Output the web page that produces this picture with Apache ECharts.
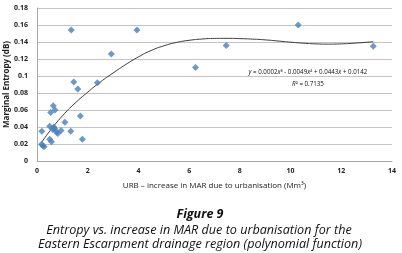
<!DOCTYPE html>
<html><head><meta charset="utf-8">
<script src="https://cdn.jsdelivr.net/npm/echarts@6/dist/echarts.min.js"></script>
<style>html,body{margin:0;padding:0;background:#fff}#c{width:402px;height:253px}</style>
</head><body><div id="c"></div>
<script>
// Observed points: x = URB (Mm³), y = marginal entropy (dB)
var urbX = [0.19,0.18,0.28,0.23,0.50,0.66,0.54,0.64,0.71,0.77,0.82,0.95,1.10,1.33,0.50,0.57,1.71,1.79,1.35,1.45,1.61,2.38,2.93,3.94,6.25,7.46,10.3,13.26,0.62,0.70];
var entropyY = [0.035,0.0196,0.0168,0.018,0.041,0.040,0.057,0.065,0.060,0.034,0.0325,0.036,0.0455,0.035,0.0255,0.0227,0.053,0.0255,0.154,0.093,0.0847,0.092,0.126,0.154,0.110,0.136,0.160,0.135,0.037,0.038];
// Trend line
var trendX = [0.18,0.5,1.0,1.5,2.0,2.5,3.0,3.5,4.0,4.5,5.0,5.5,6.0,6.5,7.0,7.5,8.0,8.5,9.0,9.5,10.0,10.5,11.0,11.5,12.0,12.5,13.26];
var trendY = [0.022,0.035,0.053,0.068,0.081,0.093,0.1035,0.1135,0.1225,0.130,0.1355,0.1395,0.142,0.1435,0.1442,0.1443,0.1440,0.1434,0.1425,0.1412,0.1398,0.1386,0.1378,0.1375,0.1378,0.1386,0.1403];
var xTicks = [0,2,4,6,8,10,12,14];
var yTicks = [0,0.02,0.04,0.06,0.08,0.1,0.12,0.14,0.16,0.18];

var pts = urbX.map(function(x,i){return [x, entropyY[i]];});
var trend = trendX.map(function(x,i){return [x, trendY[i]];});
var chart = echarts.init(document.getElementById('c'));
var F = 'Open Sans';
chart.setOption({
  animation:false,
  grid:{left:37,right:10,top:8,bottom:92,outerBoundsMode:'none',containLabel:false},
  xAxis:{type:'value',min:0,max:14,interval:2,
    name:'URB \u2013 increase in MAR due to urbanisation (Mm\u00b3)',nameLocation:'middle',nameGap:21,nameMoveOverlap:false,
    nameTextStyle:{fontFamily:F,fontSize:8,color:'#222'},
    axisLine:{lineStyle:{color:'#aaa'}},axisTick:{show:false},
    axisLabel:{fontFamily:F,fontSize:7,fontWeight:'bold',color:'#222',margin:6,
      formatter:function(v){return xTicks.indexOf(v)>=0?String(v):'';}},
    splitLine:{show:false}},
  yAxis:{type:'value',min:0,max:0.18,interval:0.02,
    name:'Marginal Entropy (dB)',nameLocation:'middle',nameGap:26,nameMoveOverlap:false,
    nameTextStyle:{fontFamily:F,fontSize:8,fontWeight:'bold',color:'#222'},
    axisLine:{show:true,lineStyle:{color:'#aaa'}},axisTick:{show:false},
    axisLabel:{fontFamily:F,fontSize:7,fontWeight:'bold',color:'#222',margin:9,
      formatter:function(v){var r=Math.round(v*100)/100;return String(r);}},
    splitLine:{lineStyle:{color:'#c4c4c4',width:1}}},
  series:[
    {type:'line',data:trend,smooth:true,showSymbol:false,symbol:'none',
     lineStyle:{color:'#222',width:0.9},z:1},
    {type:'scatter',data:pts,symbol:'diamond',symbolSize:7,
     itemStyle:{color:'#4a7ebb'},z:3}
  ],
  graphic:[
    {type:'text',x:308,y:69,style:{
      text:'{i|y} = 0.0002{i|x}\u00b3 - 0.0049{i|x}\u00b2 + 0.0443{i|x} + 0.0142',align:'center',
      fontFamily:F,fontSize:6.2,fill:'#111',
      rich:{i:{fontStyle:'italic',fontFamily:F,fontSize:6.2,fill:'#111'}}}},
    {type:'text',x:308,y:81,style:{text:'{i|R}\u00b2 = 0.7135',align:'center',
      fontFamily:F,fontSize:6.2,fill:'#111',
      rich:{i:{fontStyle:'italic',fontFamily:F,fontSize:6.2,fill:'#111'}}}},
    {type:'text',x:200,y:208,style:{text:'Figure 9',align:'center',fontFamily:F,fontSize:12.5,fontWeight:'bold',fontStyle:'italic',fill:'#111'}},
    {type:'text',x:199,y:224,style:{text:'Entropy vs. increase in MAR due to urbanisation for the',align:'center',fontFamily:F,fontSize:12.6,fontStyle:'italic',fill:'#111'}},
    {type:'text',x:200,y:238,style:{text:'Eastern Escarpment drainage region (polynomial function)',align:'center',fontFamily:F,fontSize:12.6,fontStyle:'italic',fill:'#111'}}
  ]
});
</script></body></html>
